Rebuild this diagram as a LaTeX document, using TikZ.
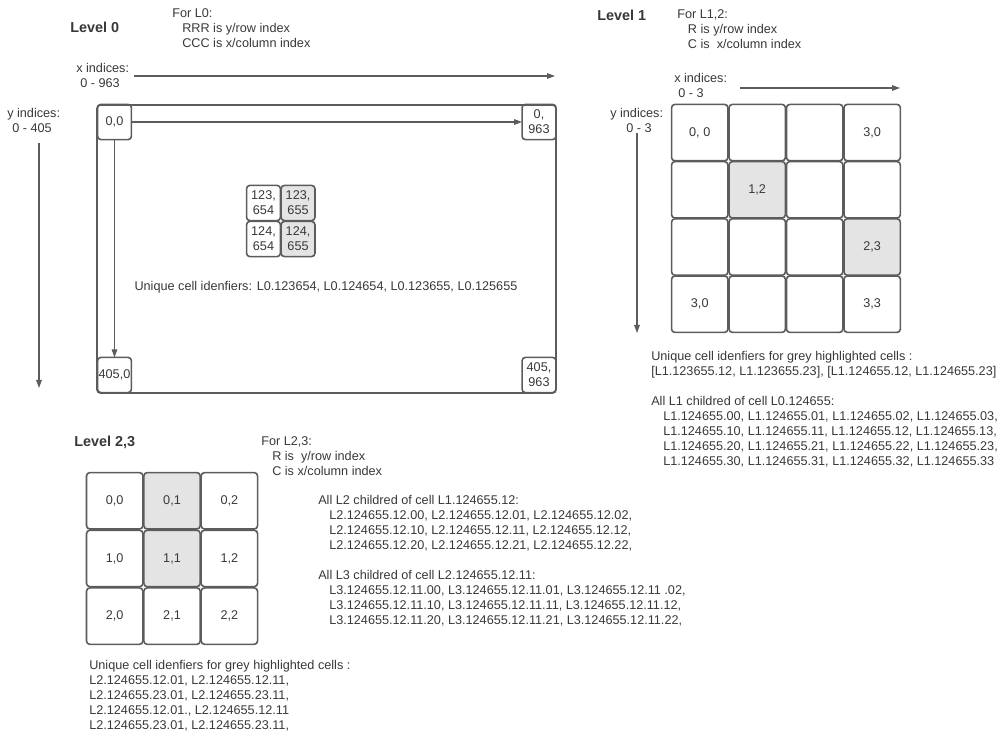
\documentclass[tikz,border=0pt]{standalone}
\usepackage{fontspec}
\setmainfont{Liberation Sans}
\usetikzlibrary{arrows.meta,positioning}
\definecolor{cellgrey}{HTML}{E4E4E4}
\definecolor{linegrey}{HTML}{5C5C5C}
\definecolor{textgrey}{HTML}{383838}
\tikzstyle{line} = [draw=linegrey, line width=0.8pt, -{Triangle[length=6pt,width=4.2pt]}]
\tikzstyle{cell} = [draw=linegrey, line width=1.2pt, rounded corners=2.5pt, inner sep=0pt, outer sep=0pt, text=textgrey, font=\fontsize{9.5}{11.25}\selectfont, align=center]
\tikzstyle{bigcell} = [cell, minimum width=42.3pt, minimum height=42.3pt]
\tikzstyle{smallcell} = [cell, minimum width=25.4pt, minimum height=26.4pt]
\tikzstyle{txt} = [anchor=base west, align=left, inner sep=0pt, text=textgrey, font=\fontsize{9.5}{11.25}\selectfont]
\tikzstyle{head} = [anchor=base west, inner sep=0pt, text=textgrey, font=\fontsize{10.8}{13}\selectfont\bfseries]
\newcommand{\indsp}[1]{\hspace*{#1}}

\begin{document}
\begin{tikzpicture}[x=0.75pt,y=-0.75pt]
	\useasboundingbox (0,0) rectangle (1004,734);

	% Level 0
	\node[head] (hzero) at (70,33) {Level 0};
	\node[txt] (forzero) at (172,47.5) {For L0:\\ \indsp{7.5pt}RRR is y/row index\\ \indsp{7.5pt}CCC is x/column index};
	\node[txt] (xzero) at (76,87.5) {x indices:\\ \indsp{3pt}0 - 963};
	\node[txt] (yzero) at (7,132.5) {y indices:\\ \indsp{3.75pt}0 - 405};
	\coordinate (xzeroa) at (134,76);
	\coordinate (xzerob) at (555,76);
	\draw[line] (xzeroa) -- (xzerob);
	\coordinate (yzeroa) at (39,143);
	\coordinate (yzerob) at (39,388);
	\draw[line] (yzeroa) -- (yzerob);
		% The frame:
	\draw[draw=linegrey, line width=1.2pt, rounded corners=2.5pt] (97,105) rectangle (556,393);
		% Corner cells:
	\node[smallcell] (c00) at (114.5,122) {0,0};
	\node[smallcell] (c0963) at (539,122) {0,\\963};
	\node[smallcell] (c4050) at (114.5,375) {405,0};
	\node[smallcell] (c405963) at (539,375) {405,\\963};
	\draw[line] (c00) -- (c0963);
	\draw[line] (c00) -- (c4050);
		% Inner cells:
	\begin{scope}[on grid, node distance=27pt and 25.9pt]
		\node[smallcell] (s00) at (263.5,203) {123,\\654};
		\node[smallcell, fill=cellgrey, right=of s00] (s01) {123,\\655};
		\node[smallcell, below=of s00] (s10) {124,\\654};
		\node[smallcell, fill=cellgrey, right=of s10] (s11) {124,\\655};
	\end{scope}
	\node[txt, anchor=base] (idzero) at (326,290.5) {Unique cell idenfiers: L0.123654, L0.124654, L0.123655, L0.125655};

	% Level 1
	\node[head] (hone) at (597,21) {Level 1};
	\node[txt] (forone) at (677,48.5) {For L1,2:\\ \indsp{8pt}R is y/row index\\ \indsp{8pt}C is\ \ x/column index};
	\node[txt] (xone) at (674,97.5) {x indices:\\ \indsp{3pt}0 - 3};
	\node[txt] (yone) at (610,132.5) {y indices:\\ \indsp{12pt}0 - 3};
	\coordinate (xonea) at (740,88);
	\coordinate (xoneb) at (900,88);
	\draw[line] (xonea) -- (xoneb);
	\coordinate (yonea) at (637,133);
	\coordinate (yoneb) at (637,333);
	\draw[line] (yonea) -- (yoneb);
		% Cells:
	\begin{scope}[on grid, node distance=42.9pt and 43.1pt]
		\node[bigcell] (p00) at (699.75,132.6) {0, 0};
		\node[bigcell, right=of p00] (p01) {};
		\node[bigcell, right=of p01] (p02) {};
		\node[bigcell, right=of p02] (p03) {3,0};
		\node[bigcell, below=of p00] (p10) {};
		\node[bigcell, fill=cellgrey, right=of p10] (p11) {1,2};
		\node[bigcell, right=of p11] (p12) {};
		\node[bigcell, right=of p12] (p13) {};
		\node[bigcell, below=of p10] (p20) {};
		\node[bigcell, right=of p20] (p21) {};
		\node[bigcell, right=of p21] (p22) {};
		\node[bigcell, fill=cellgrey, right=of p22] (p23) {2,3};
		\node[bigcell, below=of p20] (p30) {3,0};
		\node[bigcell, right=of p30] (p31) {};
		\node[bigcell, right=of p31] (p32) {};
		\node[bigcell, right=of p32] (p33) {3,3};
	\end{scope}
		% Labels:
	\node[txt] (idone) at (651,375.5) {Unique cell idenfiers for grey highlighted cells :\\ {[}L1.123655.12, L1.123655.23], {[}L1.124655.12, L1.124655.23]};
	\node[txt] (kidsone) at (651,465.5) {All L1 childred of cell L0.124655:\\
		\indsp{9pt}L1.124655.00, L1.124655.01, L1.124655.02, L1.124655.03,\\
		\indsp{9pt}L1.124655.10, L1.124655.11, L1.124655.12, L1.124655.13,\\
		\indsp{9pt}L1.124655.20, L1.124655.21, L1.124655.22, L1.124655.23,\\
		\indsp{9pt}L1.124655.30, L1.124655.31, L1.124655.32, L1.124655.33};

	% Level 2,3
	\node[head] (htwo) at (74,446) {Level 2,3};
	\node[txt] (fortwo) at (261,475.5) {For L2,3:\\ \indsp{8.25pt}R is\ \ y/row index\\ \indsp{8.25pt}C is x/column index};
		% Cells:
	\begin{scope}[on grid, node distance=43.25pt and 43pt]
		\node[bigcell] (q00) at (114.7,500.8) {0,0};
		\node[bigcell, fill=cellgrey, right=of q00] (q01) {0,1};
		\node[bigcell, right=of q01] (q02) {0,2};
		\node[bigcell, below=of q00] (q10) {1,0};
		\node[bigcell, fill=cellgrey, right=of q10] (q11) {1,1};
		\node[bigcell, right=of q11] (q12) {1,2};
		\node[bigcell, below=of q10] (q20) {2,0};
		\node[bigcell, right=of q20] (q21) {2,1};
		\node[bigcell, right=of q21] (q22) {2,2};
	\end{scope}
		% Labels:
	\node[txt] (kidstwo) at (318,549.5) {All L2 childred of cell L1.124655.12:\\
		\indsp{8.25pt}L2.124655.12.00, L2.124655.12.01, L2.124655.12.02,\\
		\indsp{8.25pt}L2.124655.12.10, L2.124655.12.11, L2.124655.12.12,\\
		\indsp{8.25pt}L2.124655.12.20, L2.124655.12.21, L2.124655.12.22,};
	\node[txt] (kidsthree) at (318,624.5) {All L3 childred of cell L2.124655.12.11:\\
		\indsp{8.25pt}L3.124655.12.11.00, L3.124655.12.11.01, L3.124655.12.11 .02,\\
		\indsp{8.25pt}L3.124655.12.11.10, L3.124655.12.11.11, L3.124655.12.11.12,\\
		\indsp{8.25pt}L3.124655.12.11.20, L3.124655.12.11.21, L3.124655.12.11.22,};
	\node[txt] (idtwo) at (89,729.5) {Unique cell idenfiers for grey highlighted cells :\\
		L2.124655.12.01, L2.124655.12.11,\\
		L2.124655.23.01, L2.124655.23.11,\\
		L2.124655.12.01., L2.124655.12.11\\
		L2.124655.23.01, L2.124655.23.11,};
\end{tikzpicture}
\end{document}
